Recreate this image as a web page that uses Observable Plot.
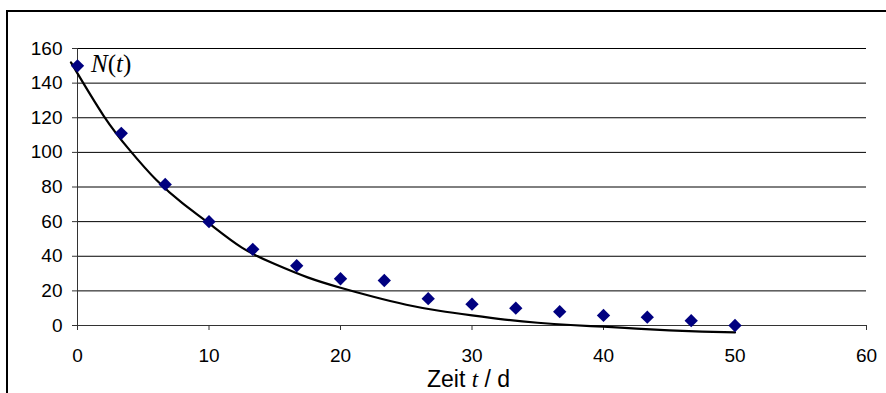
<!DOCTYPE html>
<html>
<head>
<meta charset="utf-8">
<script src="https://cdn.jsdelivr.net/npm/d3@7"></script>
<script src="https://cdn.jsdelivr.net/npm/@observablehq/plot@0.6"></script>
<style>
html, body { margin: 0; padding: 0; background: #fff; overflow: hidden; width: 886px; height: 393px; }
#chart { position: relative; width: 886px; height: 393px; }
#chart svg { position: absolute; left: 0; top: 0; }
#frame { position: absolute; left: 6px; top: 10px; width: 920px; height: 420px; border: 2px solid #000; box-sizing: border-box; pointer-events: none; box-shadow: 0 1px 0 #bbb; }
</style>
</head>
<body>
<div id="chart"><div id="frame"></div></div>
<script>
// Observed values: time t in days, count N(t)
const tDays = [0, 3.33, 6.67, 10, 13.33, 16.67, 20, 23.33, 26.67, 30, 33.33, 36.67, 40, 43.33, 46.67, 50];
const counts = [150, 111, 81.5, 60, 44, 34.5, 27, 26, 15.5, 12.3, 10, 8, 5.8, 4.8, 2.8, 0];

// Trend line
const trendT = [-0.5, 2, 4, 6, 8, 10, 12.5, 15, 17.5, 20, 22.5, 25, 27.5, 30, 32.5, 35, 37.5, 40, 42.5, 45, 47.5, 50];
const trendN = [152, 121, 101, 84, 70.5, 59, 45, 35.5, 27.8, 21.8, 16.6, 12, 8.5, 5.8, 3.4, 1.6, 0.3, -0.7, -1.8, -2.8, -3.5, -4];

// Axis ticks
const xTicks = [0, 10, 20, 30, 40, 50, 60];
const yTicks = [0, 20, 40, 60, 80, 100, 120, 140, 160];

const obs = tDays.map((t, i) => ({t, n: counts[i]}));
const trend = trendT.map((t, i) => ({t, n: trendN[i]}));

const sans = "'Liberation Sans', Arial, sans-serif";
const serif = "'Liberation Serif', 'Times New Roman', serif";

const chart = Plot.plot({
  width: 886,
  height: 393,
  marginLeft: 77,
  marginRight: 20,
  marginTop: 48,
  marginBottom: 68,
  style: {fontFamily: sans, fontSize: "19px", background: "transparent", color: "#000", overflow: "visible"},
  x: {domain: [0, 60]},
  y: {domain: [0, 160]},
  marks: [
    Plot.gridY(yTicks.filter(d => d > 0), {stroke: "#000", strokeOpacity: 1, strokeWidth: 1}),
    Plot.ruleY([0], {stroke: "#333", strokeWidth: 1}),
    Plot.ruleX([0], {stroke: "#333", strokeWidth: 1}),
    Plot.axisX(xTicks, {tickSize: 5, tickPadding: 18, stroke: "#333", label: null, fontSize: 19}),
    Plot.axisY(yTicks, {tickSize: 5, tickPadding: 10, stroke: "#333", label: null, fontSize: 19}),
    Plot.line(trend, {x: "t", y: "n", curve: "natural", stroke: "#000", strokeWidth: 2.2}),
    Plot.dot(obs, {x: "t", y: "n", symbol: "diamond2", r: 6, fill: "#000080", stroke: "none"})
  ]
});

document.getElementById("chart").appendChild(chart);

const xs = chart.scale("x");
const ys = chart.scale("y");

// N(t) label next to the first point, italic letters with upright parentheses
const nLabel = d3.select(chart).append("text")
  .attr("x", xs.apply(obs[0].t) + 14)
  .attr("y", ys.apply(obs[0].n) + 7)
  .attr("text-anchor", "start")
  .attr("font-family", serif)
  .attr("font-size", 25)
  .attr("fill", "#000");
nLabel.append("tspan").attr("font-style", "italic").text("N");
nLabel.append("tspan").text("(");
nLabel.append("tspan").attr("font-style", "italic").text("t");
nLabel.append("tspan").text(")");

// x-axis title with italic t
const title = d3.select(chart).append("text")
  .attr("x", (xs.range[0] + xs.range[1]) / 2 - 3)
  .attr("y", 387)
  .attr("text-anchor", "middle")
  .attr("font-family", sans)
  .attr("font-size", 23)
  .attr("fill", "#000");
title.append("tspan").text("Zeit ");
title.append("tspan").attr("font-family", serif).attr("font-style", "italic").text("t");
title.append("tspan").text(" / d");
</script>
</body>
</html>
